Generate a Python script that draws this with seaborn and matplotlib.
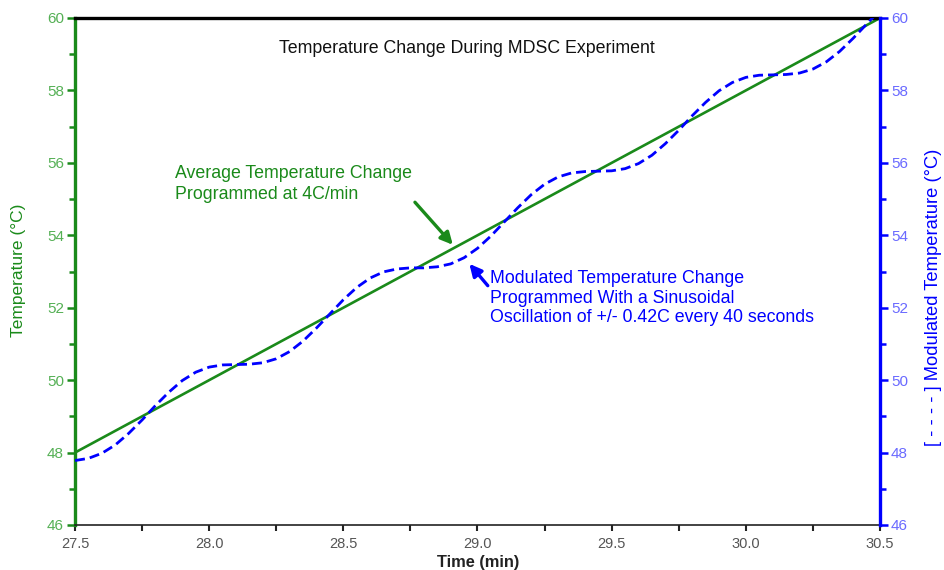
import matplotlib
matplotlib.use("Agg")
import matplotlib.pyplot as plt
import pandas as pd
import seaborn as sns
from matplotlib.ticker import MultipleLocator

# ---- data ----
time_avg = [27.5, 30.5]
temp_avg = [48.0, 60.0]

time_mod = [27.50, 27.55, 27.60, 27.65, 27.70, 27.75, 27.80, 27.85, 27.90, 27.95,
            28.00, 28.05, 28.10, 28.15, 28.20, 28.25, 28.30, 28.35, 28.40, 28.45,
            28.50, 28.55, 28.60, 28.65, 28.70, 28.75, 28.80, 28.85, 28.90, 28.95,
            29.00, 29.05, 29.10, 29.15, 29.20, 29.25, 29.30, 29.35, 29.40, 29.45,
            29.50, 29.55, 29.60, 29.65, 29.70, 29.75, 29.80, 29.85, 29.90, 29.95,
            30.00, 30.05, 30.10, 30.15, 30.20, 30.25, 30.30, 30.35, 30.40, 30.45,
            30.50]
temp_mod = [47.78, 47.84, 47.98, 48.21, 48.53, 48.90, 49.30, 49.67, 49.99, 50.22,
            50.36, 50.42, 50.43, 50.44, 50.48, 50.59, 50.79, 51.08, 51.44, 51.83,
            52.22, 52.56, 52.82, 52.99, 53.07, 53.10, 53.10, 53.13, 53.21, 53.38,
            53.64, 53.98, 54.37, 54.76, 55.12, 55.41, 55.61, 55.72, 55.76, 55.77,
            55.78, 55.84, 55.98, 56.21, 56.53, 56.90, 57.30, 57.67, 57.99, 58.22,
            58.36, 58.42, 58.43, 58.44, 58.48, 58.59, 58.79, 59.08, 59.44, 59.83,
            60.22]

x_ticks = [27.5, 28.0, 28.5, 29.0, 29.5, 30.0, 30.5]
x_ticklabels = ["27.5", "28.0", "28.5", "29.0", "29.5", "30.0", "30.5"]
y_ticks = [46, 48, 50, 52, 54, 56, 58, 60]

title_text = "Temperature Change During MDSC Experiment"
avg_text = "Average Temperature Change\nProgrammed at 4C/min"
mod_text = ("Modulated Temperature Change\nProgrammed With a Sinusoidal\n"
            "Oscillation of +/- 0.42C every 40 seconds")

# ---- style ----
sns.set_theme(style="white")
plt.rcParams['font.family'] = ['Liberation Sans', 'DejaVu Sans']

GREEN = "#1a8a1a"
GREEN_LBL = "#55b055"
BLUE = "#0000ff"
BLUE_LBL = "#6a6aff"

df_avg = pd.DataFrame({"t": time_avg, "T": temp_avg})
df_mod = pd.DataFrame({"t": time_mod, "T": temp_mod})

fig = plt.figure(figsize=(9.45, 5.7), dpi=100)
ax = fig.add_axes([75/945, 1-525/570, (880-75)/945, (525-18)/570])
ax2 = ax.twinx()

sns.lineplot(data=df_avg, x="t", y="T", ax=ax, color=GREEN, linewidth=1.9)
sns.lineplot(data=df_mod, x="t", y="T", ax=ax2, color=BLUE, linewidth=2.0)
ax2.lines[0].set_linestyle((0, (3.6, 1.8)))

for a in (ax, ax2):
    a.set_xlim(27.5, 30.5)
    a.set_ylim(46, 60)
    a.set_yticks(y_ticks)
    a.yaxis.set_minor_locator(MultipleLocator(1))

ax.set_xticks(x_ticks)
ax.set_xticklabels(x_ticklabels)
ax.xaxis.set_minor_locator(MultipleLocator(0.25))

# spines
ax.spines['left'].set_color(GREEN)
ax.spines['left'].set_linewidth(2.4)
ax.spines['top'].set_color("black")
ax.spines['top'].set_linewidth(2.4)
ax.spines['bottom'].set_color("#222222")
ax.spines['bottom'].set_linewidth(1.2)
ax.spines['right'].set_visible(False)
for s in ('left', 'top', 'bottom'):
    ax2.spines[s].set_visible(False)
ax2.spines['right'].set_color(BLUE)
ax2.spines['right'].set_linewidth(2.4)

# ticks
ax.tick_params(axis='y', which='both', left=True, direction='out', colors=GREEN,
               labelcolor=GREEN_LBL, labelsize=11, pad=2, width=1.8)
ax.tick_params(axis='y', which='major', length=6)
ax.tick_params(axis='y', which='minor', length=4)
ax.tick_params(axis='x', which='both', bottom=True, direction='out', colors="#222222",
               labelcolor="#555555", labelsize=10.5, pad=5, width=1.5, length=4)
ax2.tick_params(axis='y', which='both', right=True, direction='out', colors=BLUE,
                labelcolor=BLUE_LBL, labelsize=11, pad=2, width=1.8)
ax2.tick_params(axis='y', which='major', length=6)
ax2.tick_params(axis='y', which='minor', length=4)

ax.set_xlabel("Time (min)", fontsize=11.8, fontweight='bold', color="#222222")
ax.xaxis.set_label_coords((478-75)/805, -(562-525)/507)
ax.xaxis.label.set_va('center')
ax.set_ylabel("Temperature (°C)", fontsize=12.5, color=GREEN)
ax.yaxis.set_label_coords((19-75)/805, (525-270)/507)
ax.yaxis.label.set_va('center')
ax2.set_ylabel("[ - - - - ] Modulated Temperature (°C)", fontsize=13.2, color=BLUE,
               rotation=90)
ax2.yaxis.set_label_position('right')
ax2.yaxis.set_label_coords((934-75)/805, (525-297)/507)
ax2.yaxis.label.set_va('center')

ax.grid(False)
ax2.grid(False)

# annotations
ax.text(28.96, 59.15, title_text, ha='center', va='center', fontsize=12.8, color="#111111")
ax.text(27.873, 55.94, avg_text, ha='left', va='top', fontsize=12.8, color=GREEN,
        linespacing=1.27)
ax.text(29.047, 53.04, mod_text, ha='left', va='top', fontsize=12.8, color=BLUE,
        linespacing=1.2)

ax.annotate("", xy=(28.915, 53.68), xytext=(28.76, 54.97),
            arrowprops=dict(arrowstyle="-|>", color=GREEN, lw=2.4, mutation_scale=18))
ax.annotate("", xy=(28.963, 53.27), xytext=(29.045, 52.55),
            arrowprops=dict(arrowstyle="-|>", color=BLUE, lw=2.4, mutation_scale=18))

fig.savefig("out.png", dpi=100)
